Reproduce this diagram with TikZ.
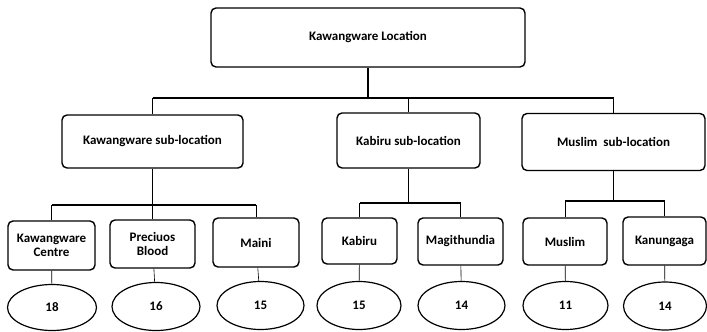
\documentclass[tikz,border=0pt]{standalone}
\usepackage{fontspec}
\setmainfont{Carlito}
\usetikzlibrary{shapes.geometric}
\tikzset{
  box/.style={draw, rounded corners=5pt, line width=1.4pt, align=center, inner sep=2pt,
    font=\bfseries\fontsize{13}{14}\selectfont},
  num/.style={draw, ellipse, line width=1.2pt, inner sep=0pt, minimum width=87pt,
    minimum height=48pt, font=\bfseries\fontsize{13}{14}\selectfont},
  conn/.style={line width=1.4pt},
  drop/.style={line width=0.6pt}
}
\begin{document}
\begin{tikzpicture}[x=1pt,y=-1pt]
\fill[white] (0,0) rectangle (707,332);
\useasboundingbox (0,0) rectangle (707,332);
\node[box, minimum width=314pt, minimum height=59pt] (loc) at (368,37.5) {Kawangware Location};
% sub-locations
\node[box, minimum width=181pt, minimum height=53pt] (kws) at (152.5,141.5) {Kawangware sub-location};
\node[box, minimum width=143pt, minimum height=55pt] (kbs) at (408.5,140.5) {Kabiru sub-location};
\node[box, minimum width=183pt, minimum height=57pt] (mss) at (613.5,142) {Muslim\ \ sub-location};
% villages
\node[box, minimum width=87pt, minimum height=49pt] (kwc) at (51.5,245.5) {Kawangware\\Centre};
\node[box, minimum width=85pt, minimum height=48pt] (pbl) at (152.5,244) {Preciuos\\Blood};
\node[box, minimum width=86pt, minimum height=49pt] (mai) at (256,242.5) {Maini};
\node[box, minimum width=75pt, minimum height=46pt] (kab) at (359.5,241) {Kabiru};
\node[box, minimum width=85pt, minimum height=47pt] (mag) at (460.5,241.5) {Magithundia};
\node[box, minimum width=84pt, minimum height=47pt] (mus) at (565,241.5) {Muslim};
\node[box, minimum width=83pt, minimum height=48pt] (kan) at (664.5,241) {Kanungaga};
% counts
\node[num, minimum width=89pt, minimum height=46pt] (e1) at (52,307.5) {18};
\node[num, minimum width=88pt] (e2) at (156,306.5) {16};
\node[num] (e3) at (260.5,305.5) {15};
\node[num, minimum width=84pt] (e4) at (359,305.5) {15};
\node[num] (e5) at (461.5,305.5) {14};
\node[num, minimum width=85pt] (e6) at (565.5,305.5) {11};
\node[num, minimum width=83pt] (e7) at (665,306) {14};
% connectors
\coordinate (bar0) at (368,98);
\coordinate (bar1) at (152.5,205);
\coordinate (bar2) at (408.5,203);
\coordinate (bar3) at (613.5,201);
\draw[conn] (loc) -- (bar0);
\draw[conn] (kws.north |- bar0) -- (mss.north |- bar0);
\foreach \s in {kws,kbs,mss} \draw[drop] (\s.north |- bar0) -- (\s.north);
\draw[conn] (kws) -- (bar1);
\draw[conn] (kwc.north |- bar1) -- (mai.north |- bar1);
\foreach \s in {kwc,pbl,mai} \draw[drop] (\s.north |- bar1) -- (\s.north);
\draw[conn] (kbs) -- (bar2);
\draw[conn] (kab.north |- bar2) -- (mag.north |- bar2);
\foreach \s in {kab,mag} \draw[drop] (\s.north |- bar2) -- (\s.north);
\draw[conn] (mss) -- (bar3);
\draw[conn] (mus.north |- bar3) -- (kan.north |- bar3);
\foreach \s in {mus,kan} \draw[drop] (\s.north |- bar3) -- (\s.north);
\foreach \a/\b in {kwc/e1,pbl/e2,mai/e3,kab/e4,mag/e5,mus/e6,kan/e7}
  \draw[drop] (\a) -- (\b);
\end{tikzpicture}
\end{document}
